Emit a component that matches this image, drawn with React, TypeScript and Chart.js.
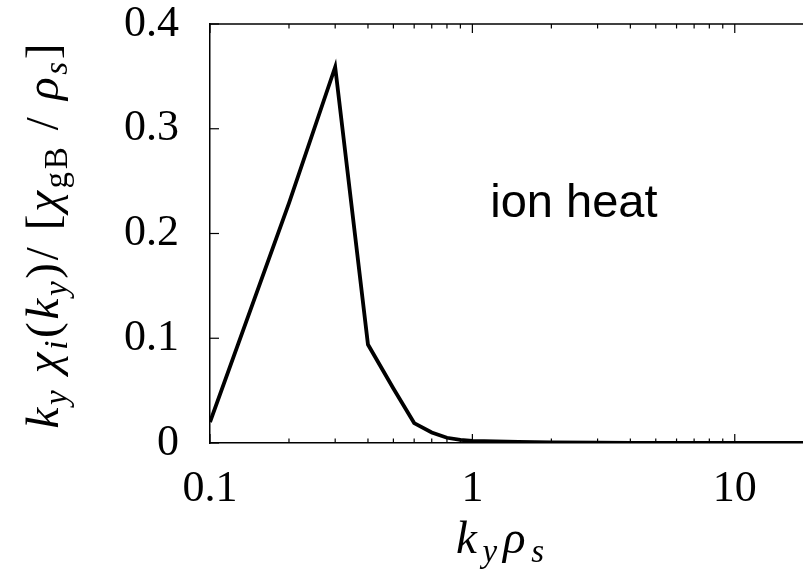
import React, { useEffect, useRef } from "react";
import { Chart, registerables } from "chart.js";

Chart.register(...registerables);

// ky * rho_s values (x, log axis)
const kyValues = [0.1, 0.2, 0.3, 0.4, 0.5, 0.6, 0.7, 0.8, 0.9, 1.0, 1.5, 2, 3, 4, 5, 6, 8, 10, 12, 15, 18.2];
// ky chi_i(ky) / [chi_gB / rho_s]
const chiValues = [0.02, 0.229, 0.359, 0.094, 0.052, 0.019, 0.01, 0.005, 0.003, 0.002, 0.001, 0.0006, 0.0003, 0.0002, 0.0001, 0, 0, 0, 0, 0, 0];

const yTickValues = [0, 0.1, 0.2, 0.3, 0.4];
const xMajorTicks = [0.1, 1, 10];
const xMinorTicks = [0.2, 0.3, 0.4, 0.5, 0.6, 0.7, 0.8, 0.9, 2, 3, 4, 5, 6, 7, 8, 9];
const annotationText = "ion heat";
const annotationPos = { x: 1.17, y: 0.216 };

const SERIF = "'Liberation Serif', 'DejaVu Serif', serif";

type Seg = [string, boolean, boolean]; // text, italic, subscript
const yTitleSegs: Seg[] = [
  ["k", true, false], ["y", true, true], [" \u03C7", true, false], ["i", true, true],
  ["(", false, false], ["k", true, false], ["y", true, true], [")/ [", false, false],
  ["\u03C7", true, false], ["gB", false, true], [" / ", false, false], ["\u03C1", true, false],
  ["s", true, true], ["]", false, false],
];
const xTitleSegs: Seg[] = [
  ["k", true, false], ["y", true, true], ["\u03C1", true, false], ["s", true, true],
];

function drawSegs(
  ctx: CanvasRenderingContext2D,
  segs: Seg[],
  size: number,
  subSize: number,
  subShift: number,
  targetLen: number
) {
  const fontFor = (s: Seg) => `${s[1] ? "italic " : ""}${s[2] ? subSize : size}px ${SERIF}`;
  const chars: { ch: string; font: string; sub: boolean; w: number }[] = [];
  let natural = 0;
  for (const s of segs) {
    ctx.font = fontFor(s);
    for (const ch of Array.from(s[0])) {
      const w = ctx.measureText(ch).width;
      chars.push({ ch, font: fontFor(s), sub: s[2], w });
      natural += w;
    }
  }
  const gap = chars.length > 1 ? (targetLen - natural) / (chars.length - 1) : 0;
  const total = natural + gap * (chars.length - 1);
  let x = -total / 2;
  ctx.textAlign = "left";
  ctx.textBaseline = "alphabetic";
  ctx.fillStyle = "#000";
  for (const c of chars) {
    ctx.font = c.font;
    ctx.fillText(c.ch, x, c.sub ? subShift : 0);
    x += c.w + gap;
  }
}

const decorPlugin = {
  id: "decor",
  afterDraw(chart: any) {
    const { ctx, chartArea } = chart;
    const xs = chart.scales.x;
    const ys = chart.scales.y;
    ctx.save();
    ctx.strokeStyle = "#000";
    ctx.lineWidth = 1.5;
    // top border
    ctx.beginPath();
    ctx.moveTo(chartArea.left, chartArea.top);
    ctx.lineTo(chartArea.right, chartArea.top);
    ctx.stroke();
    ctx.lineWidth = 1.2;
    const tick = (x1: number, y1: number, x2: number, y2: number) => {
      ctx.beginPath();
      ctx.moveTo(x1, y1);
      ctx.lineTo(x2, y2);
      ctx.stroke();
    };
    for (const v of yTickValues) {
      const p = ys.getPixelForValue(v);
      tick(chartArea.left, p, chartArea.left + 9, p);
    }
    for (const v of xMajorTicks) {
      const p = xs.getPixelForValue(v);
      if (p > chartArea.right) continue;
      tick(p, chartArea.bottom, p, chartArea.bottom - 9);
      tick(p, chartArea.top, p, chartArea.top + 9);
    }
    for (const v of xMinorTicks) {
      const p = xs.getPixelForValue(v);
      if (p > chartArea.right) continue;
      tick(p, chartArea.bottom, p, chartArea.bottom - 4.5);
      tick(p, chartArea.top, p, chartArea.top + 4.5);
    }
    // y title
    ctx.save();
    ctx.translate(58, 236);
    ctx.rotate(-Math.PI / 2);
    drawSegs(ctx, yTitleSegs, 47, 33, 9, 385);
    ctx.restore();
    // x title
    ctx.save();
    ctx.translate(500, 553);
    drawSegs(ctx, xTitleSegs, 47, 33, 9, 88);
    ctx.restore();
    // annotation
    ctx.font = "47px 'Liberation Sans', Arial, sans-serif";
    ctx.fillStyle = "#000";
    ctx.textAlign = "left";
    ctx.textBaseline = "alphabetic";
    ctx.fillText(annotationText, xs.getPixelForValue(annotationPos.x), ys.getPixelForValue(annotationPos.y));
    ctx.restore();
  },
};

export default function App() {
  const ref = useRef<HTMLCanvasElement>(null);
  useEffect(() => {
    if (!ref.current) return;
    const allX = [...xMajorTicks, ...xMinorTicks].sort((a, b) => a - b);
    const chart = new Chart(ref.current, {
      type: "line",
      data: {
        datasets: [
          {
            data: kyValues.map((k, i) => ({ x: k, y: chiValues[i] })),
            borderColor: "#000",
            borderWidth: 3.8,
            pointRadius: 0,
            tension: 0,
            fill: false,
          },
        ],
      },
      options: {
        animation: false,
        responsive: false,
        events: [],
        layout: { padding: { top: 24, right: 0, left: 0, bottom: 0 } },
        plugins: { legend: { display: false }, tooltip: { enabled: false } },
        scales: {
          x: {
            type: "logarithmic",
            min: 0.1,
            max: 18.2,
            afterBuildTicks: (s: any) => {
              s.ticks = allX.map((v) => ({ value: v }));
            },
            afterFit: (s: any) => {
              s.height = 132;
              s.paddingLeft = 0;
              s.paddingRight = 0;
            },
            ticks: {
              autoSkip: false,
              maxRotation: 0,
              color: "#000",
              padding: 20,
              font: { family: SERIF, size: 44 },
              callback: (v: any) => {
                const n = Number(v);
                return xMajorTicks.some((m) => Math.abs(m - n) < 1e-9) ? String(n) : "";
              },
            },
            grid: { display: false, drawTicks: false },
            border: { display: true, color: "#000", width: 1.5 },
          },
          y: {
            min: 0,
            max: 0.4,
            afterBuildTicks: (s: any) => {
              s.ticks = yTickValues.map((v) => ({ value: v }));
            },
            afterFit: (s: any) => {
              s.width = 210;
              s.paddingTop = 0;
              s.paddingBottom = 0;
            },
            ticks: {
              color: "#000",
              padding: 31,
              font: { family: SERIF, size: 44 },
              callback: (v: any) => (Number(v) === 0 ? "0" : Number(v).toFixed(1)),
            },
            grid: { display: false, drawTicks: false },
            border: { display: true, color: "#000", width: 1.5 },
          },
        },
      },
      plugins: [decorPlugin],
    } as any);
    return () => chart.destroy();
  }, []);
  return (
    <div style={{ position: "fixed", left: 0, top: 0, width: 803, height: 575, background: "#fff" }}>
      <canvas ref={ref} width={803} height={575} style={{ display: "block" }} />
    </div>
  );
}
